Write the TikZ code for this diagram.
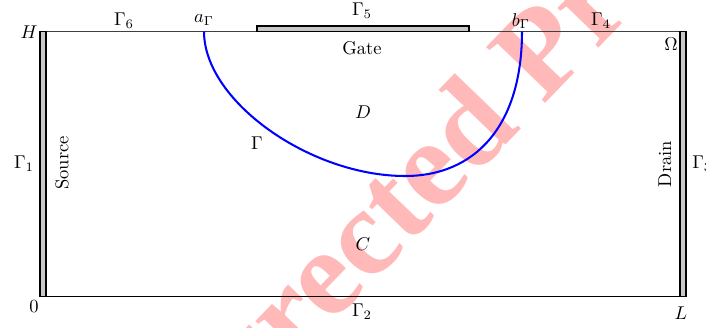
\documentclass[tikz,border=0pt]{standalone}
\usepackage{fontspec}
\newfontfamily\wmfont{Liberation Serif}
\definecolor{wmpink}{RGB}{255,185,185}
\definecolor{elecfill}{RGB}{200,200,200}
\begin{document}
\begin{tikzpicture}[x=0.54pt,y=-0.54pt,
  lbl/.style={inner sep=0pt},
  electrode/.style={draw=black,fill=elecfill,line width=0.8pt},
  boundary/.style={line width=0.6pt},
  interface/.style={draw=blue,line width=1.1pt}]
\useasboundingbox (0,0) rectangle (706,327);
% watermark
\node[rotate=46,anchor=base west,inner sep=0pt,text=wmpink,
  font=\wmfont\bfseries\fontsize{67}{67}\selectfont] (wm) at (64,602) {Uncorrected Proof};
% domain corners
\coordinate (O) at (40,296.5);
\coordinate (Lc) at (686,296.5);
\coordinate (Hc) at (40,31.5);
\coordinate (LH) at (686,31.5);
% boundary lines
\draw[boundary,draw=black!75] (Hc) -- (LH);
\draw[boundary] (O) -- (Lc);
% electrodes
\draw[electrode] (40,31.5) rectangle (45.8,296.5);
\draw[electrode] (680.2,31.5) rectangle (686,296.5);
\draw[electrode] (257,26.2) rectangle (469,31.5);
% interface curve
\coordinate (aG) at (204,31.5);
\coordinate (bG) at (522,31.5);
\coordinate (mG) at (405,176);
\draw[interface] (aG) .. controls (204,101) and (310,176) .. (mG)
  .. controls (475,176) and (522,126) .. (bG);
% labels
\node[lbl] (Hl) at (29,32) {$H$};
\node[lbl] (G6) at (124,21) {$\Gamma_6$};
\node[lbl] (al) at (204,20) {$a_\Gamma$};
\node[lbl] (G5) at (362,11) {$\Gamma_5$};
\node[lbl] (gate) at (362,48) {Gate};
\node[lbl] (bl) at (521,21) {$b_\Gamma$};
\node[lbl] (G4) at (601,21) {$\Gamma_4$};
\node[lbl] (Om) at (671,44) {$\Omega$};
\node[lbl] (G1) at (24,164) {$\Gamma_1$};
\node[lbl,rotate=90] (src) at (62,163) {Source};
\node[lbl,rotate=90] (drn) at (665,164) {Drain};
\node[lbl,anchor=west] (G3) at (692,164) {$\Gamma_3$};
\node[lbl] (Dl) at (363,112) {$D$};
\node[lbl] (Gl) at (257,143) {$\Gamma$};
\node[lbl] (Cl) at (363,244) {$C$};
\node[lbl] (zero) at (34,307) {$0$};
\node[lbl] (G2) at (362,312) {$\Gamma_2$};
\node[lbl] (Ll) at (681,313) {$L$};
\end{tikzpicture}
\end{document}
